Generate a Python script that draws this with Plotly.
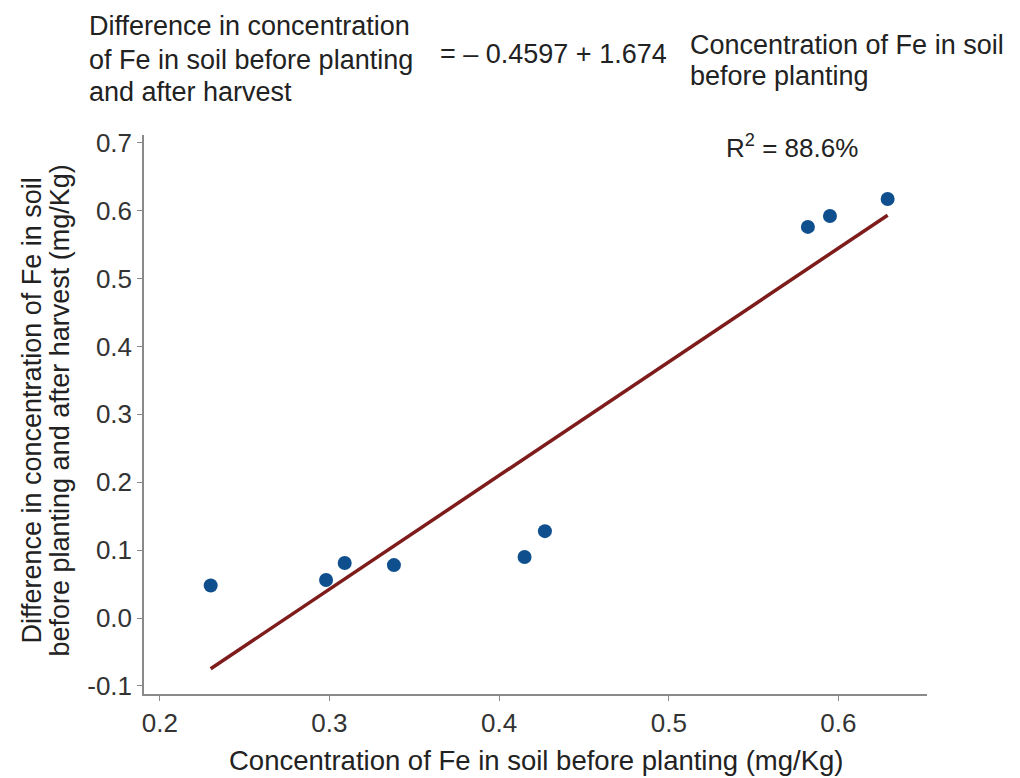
import plotly.graph_objects as go

# Fe concentration in soil before planting (mg/Kg)
fe_before = [0.230, 0.298, 0.309, 0.338, 0.415, 0.427, 0.582, 0.595, 0.629]
# Difference in Fe concentration before planting and after harvest (mg/Kg)
fe_difference = [0.048, 0.056, 0.081, 0.078, 0.090, 0.128, 0.576, 0.592, 0.617]

# Regression fit
intercept = -0.4597
slope = 1.674
r_squared = 88.6

x_ticks = [0.2, 0.3, 0.4, 0.5, 0.6]
x_ticklabels = ["0.2", "0.3", "0.4", "0.5", "0.6"]
y_ticks = [-0.1, 0.0, 0.1, 0.2, 0.3, 0.4, 0.5, 0.6, 0.7]
y_ticklabels = ["-0.1", "0.0", "0.1", "0.2", "0.3", "0.4", "0.5", "0.6", "0.7"]

W, H = 1020, 778
ML, MR, MT, MB = 143.5, 93.3, 135, 84
PW, PH = W - ML - MR, H - MT - MB


def px(xp):
    return (xp - ML) / PW


def py(yp):
    return (H - MB - yp) / PH


FONT = "Liberation Sans, Arial, sans-serif"
TEXT = "#222222"

fit_x = [min(fe_before), max(fe_before)]
fit_y = [intercept + slope * v for v in fit_x]

fig = go.Figure()
fig.add_trace(go.Scatter(
    x=fit_x, y=fit_y, mode="lines",
    line=dict(color="#7e1c1c", width=3.5),
    showlegend=False, hoverinfo="skip",
))
fig.add_trace(go.Scatter(
    x=fe_before, y=fe_difference, mode="markers",
    marker=dict(color="#0f4f8e", size=14),
    showlegend=False,
))

axis_common = dict(
    showline=True, linecolor="#8a8a8a", linewidth=1.5,
    ticks="outside", ticklen=5, tickcolor="#8a8a8a", tickwidth=1,
    showgrid=False, zeroline=False,
    tickfont=dict(family=FONT, size=26, color="#333333"),
)

fig.update_layout(
    width=W, height=H,
    margin=dict(l=ML, r=MR, t=MT, b=MB, pad=0),
    paper_bgcolor="white", plot_bgcolor="white",
    font=dict(family=FONT, color=TEXT),
    xaxis=dict(range=[0.1907, 0.6522], tickvals=x_ticks, ticktext=x_ticklabels,
               mirror=False, **axis_common),
    yaxis=dict(range=[-0.1118, 0.7113], tickvals=y_ticks, ticktext=y_ticklabels,
               **axis_common),
)

annotations = []


def label(text, xp, yp, size=27, anchor="left", angle=0):
    annotations.append(dict(
        text=text, x=px(xp), y=py(yp), xref="paper", yref="paper",
        xanchor=anchor, yanchor="middle", showarrow=False, textangle=angle,
        font=dict(family=FONT, size=size, color=TEXT),
    ))


# Regression equation
label("Difference in concentration", 86, 26)
label("of Fe in soil before planting", 86, 60)
label("and after harvest", 86, 92)
label("= \u2013 0.4597 + 1.674", 438, 54)
label("Concentration of Fe in soil", 688, 45)
label("before planting", 688, 76)

# Coefficient of determination
label(f"R<sup>2</sup> = {r_squared}%", 724, 146, size=26)

# Axis titles
label("Concentration of Fe in soil before planting (mg/Kg)", 536, 760, anchor="center", size=27.5)
label("Difference in concentration of Fe in soil", 31, 411, anchor="center", angle=-90)
label("before planting and after harvest (mg/Kg)", 59, 411, anchor="center", angle=-90)

fig.update_layout(annotations=annotations)

fig.write_html("out.html")
